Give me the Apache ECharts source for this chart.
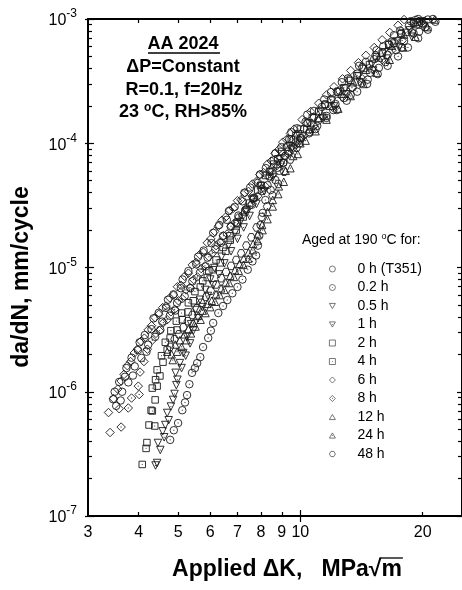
<!DOCTYPE html>
<html>
<head>
<meta charset="utf-8">
<script src="https://cdn.jsdelivr.net/npm/echarts@6.0.0/dist/echarts.min.js"></script>
<style>
  html, body { margin: 0; padding: 0; background: #fff; }
  #chart { width: 462px; height: 590px; }
</style>
</head>
<body>
<div id="chart"></div>
<script>
// --- Data: [ΔK (MPa√m), da/dN (mm/cycle)] ---
const h0 = [[3.46,8.7e-7],[3.49,1.0e-6],[3.52,7.7e-7],[3.58,1.2e-6],[3.61,8.5e-7],[3.64,1.0e-6],[3.70,1.32e-6],[3.73,1.55e-6],[3.77,1.19e-6],[3.84,1.88e-6],[3.87,1.35e-6],[3.91,1.6e-6],[3.98,2.16e-6],[4.02,2.5e-6],[4.06,1.87e-6],[4.14,2.86e-6],[4.18,2.1e-6],[4.22,2.39e-6],[4.30,3.19e-6],[4.35,3.9e-6],[4.39,2.77e-6],[4.48,4.32e-6],[4.52,3.15e-6],[4.57,3.67e-6],[4.67,4.73e-6],[4.72,5.5e-6],[4.77,4.09e-6],[4.87,6.08e-6],[4.92,4.5e-6],[4.97,5.19e-6],[5.08,6.81e-6],[5.13,8.0e-6],[5.19,5.87e-6],[5.30,9.36e-6],[5.36,6.8e-6],[5.42,7.74e-6],[5.54,1.06e-5],[5.60,1.22e-5],[5.66,9.1e-6],[5.78,1.37e-5],[5.85,1.02e-5],[5.91,1.2e-5],[6.04,1.57e-5],[6.10,1.9e-5],[6.17,1.4e-5],[6.31,2.2e-5],[6.38,1.58e-5],[6.45,1.8e-5],[6.59,2.42e-5],[6.67,2.85e-5],[6.74,2.13e-5],[6.89,3.07e-5],[6.97,2.3e-5],[7.04,2.62e-5],[7.20,3.41e-5],[7.28,4.0e-5],[7.36,2.92e-5],[7.52,4.4e-5],[7.60,3.2e-5],[7.69,3.65e-5],[7.86,4.8e-5],[7.95,5.6e-5],[8.04,4.12e-5],[8.22,6.31e-5],[8.30,4.6e-5],[8.40,5.43e-5],[8.59,7.26e-5],[8.68,8.3e-5],[8.78,6.35e-5],[8.98,9.3e-5],[9.08,7.0e-5],[9.18,7.9e-5],[9.39,1.08e-4],[9.50,1.23e-4],[9.60,9.2e-5],[9.82,1.32e-4],[9.95,1.0e-4],[10.05,1.1e-4],[10.3,1.49e-4],[10.4,1.7e-4],[10.55,1.23e-4],[10.8,1.82e-4],[10.9,1.3e-4],[11.05,1.52e-4],[11.3,1.96e-4],[11.45,2.25e-4],[11.6,1.66e-4],[11.9,2.58e-4],[12.05,1.85e-4],[12.2,2.07e-4],[12.5,2.65e-4],[12.65,3.1e-4],[12.8,2.31e-4],[13.1,3.33e-4],[13.3,2.45e-4],[13.45,2.81e-4],[13.8,3.63e-4],[13.95,4.2e-4],[14.15,3.05e-4],[14.5,4.52e-4],[14.65,3.25e-4],[14.85,3.69e-4],[15.2,4.75e-4],[15.4,5.6e-4],[15.6,4.04e-4],[16.0,6.03e-4],[16.2,4.5e-4],[16.4,5.15e-4],[16.8,6.6e-4],[17.0,7.4e-4],[17.2,5.61e-4],[17.6,8.07e-4],[17.8,5.9e-4],[18.0,6.66e-4],[18.5,8.8e-4],[18.7,9.6e-4],[19.0,7.66e-4],[19.2,9.8e-4],[19.5,1.0e-3],[19.6,7.9e-4],[20.0,9.2e-4],[20.3,8.6e-4],[20.6,9.9e-4],[21.2,1.0e-3]];
const h02 = [[4.78,4.1e-7],[4.88,4.9e-7],[5.0,5.6e-7],[5.12,7.1e-7],[5.2,8.2e-7],[5.26,9.4e-7],[5.33,1.15e-6],[5.41,1.42e-6],[5.5,1.55e-6],[5.57,1.7e-6],[5.67,1.9e-6],[5.76,2.29e-6],[5.93,2.71e-6],[6.02,3.1e-6],[6.10,3.58e-6],[6.28,4.3e-6],[6.45,4.9e-6],[6.61,5.47e-6],[6.8,6.2e-6],[7.0,6.97e-6],[7.2,8.0e-6],[7.42,9.6e-6],[7.62,1.12e-5],[7.78,1.25e-5],[7.86,1.5e-5],[7.92,1.8e-5],[7.98,2.2e-5],[8.08,2.75e-5],[8.2,3.49e-5],[8.45,4.2e-5],[8.68,5.06e-5],[8.88,6.0e-5],[9.08,6.93e-5],[9.35,8.6e-5],[9.61,1.06e-4],[10.0,1.1e-4],[10.5,1.2e-4],[11.0,1.38e-4],[11.6,1.6e-4],[12.3,1.85e-4],[13.0,2.2e-4],[13.8,2.6e-4],[14.6,3.0e-4],[15.5,3.6e-4],[16.4,4.2e-4],[17.4,5.0e-4],[18.4,5.9e-4],[19.5,7.0e-4],[20.6,8.2e-4],[21.5,9.5e-4]];
const h05 = [[4.44,2.67e-7],[4.46,3.87e-7],[4.58,4.8e-7],[4.65,5.4e-7],[4.70,6.75e-7],[4.86,8.6e-7],[4.95,1.13e-6],[4.93,1.42e-6],[5.05,1.7e-6],[5.15,2.05e-6],[5.26,2.76e-6],[5.38,3.5e-6],[5.51,4.55e-6],[5.66,5.5e-6],[5.83,6.6e-6],[6.0,8.0e-6],[6.14,9.9e-6],[6.4,1.22e-5],[6.66,1.52e-5],[6.9,1.9e-5],[7.11,2.32e-5],[7.35,2.85e-5],[7.6,3.5e-5],[8.0,4.5e-5],[8.45,5.8e-5],[8.9,7.4e-5],[9.4,9.5e-5],[9.9,1.18e-4],[10.5,1.45e-4],[11.2,1.8e-4],[12.0,2.2e-4],[12.9,2.75e-4],[13.9,3.45e-4],[15.0,4.3e-4],[16.1,5.4e-4],[17.3,6.6e-4],[18.6,8.1e-4],[19.9,9.6e-4]];
const h1 = [[4.40,2.55e-7],[4.52,3.4e-7],[4.62,4.3e-7],[4.74,5.9e-7],[4.80,7.6e-7],[4.9,9.6e-7],[4.98,1.25e-6],[5.1,1.55e-6],[5.22,1.95e-6],[5.35,2.45e-6],[5.45,3.1e-6],[5.6,3.9e-6],[5.75,4.8e-6],[5.92,5.9e-6],[6.1,7.2e-6],[6.3,8.8e-6],[6.5,1.08e-5],[6.75,1.35e-5],[7.0,1.7e-5],[7.25,2.1e-5],[7.5,2.6e-5],[7.8,3.25e-5],[8.15,4.1e-5],[8.55,5.3e-5],[9.0,6.9e-5],[9.5,8.9e-5],[10.0,1.05e-4],[10.6,1.28e-4],[11.3,1.58e-4],[12.1,1.98e-4],[13.0,2.48e-4],[14.0,3.1e-4],[15.1,3.85e-4],[16.3,4.8e-4],[17.5,5.9e-4],[18.8,7.2e-4],[20.2,8.8e-4]];
const h2 = [[4.19,3.9e-7],[4.24,5.4e-7],[4.29,7.1e-7],[4.39,8.6e-7],[4.44,1.11e-6],[4.51,1.34e-6],[4.59,1.73e-6],[4.70,2.17e-6],[4.78,2.71e-6],[4.97,3.14e-6],[5.12,3.8e-6],[5.29,4.39e-6],[5.45,5.4e-6],[5.67,6.97e-6],[5.9,8.3e-6],[6.1,9.6e-6],[6.35,1.09e-5],[6.55,1.35e-5],[6.72,1.66e-5],[6.95,2.0e-5],[7.23,2.55e-5],[7.5,3.3e-5],[7.85,4.2e-5],[8.2,5.5e-5],[8.6,6.8e-5],[9.0,8.6e-5],[9.5,1.08e-4],[10.0,1.3e-4],[10.7,1.6e-4],[11.5,2.05e-4],[12.4,2.6e-4],[13.3,3.2e-4],[14.3,4.0e-4],[15.4,5.0e-4],[16.5,6.2e-4],[17.7,7.6e-4],[19.0,9.2e-4]];
const h4 = [[4.08,2.6e-7],[4.17,3.5e-7],[4.38,5.3e-7],[4.32,7.0e-7],[4.32,1.07e-6],[4.40,1.25e-6],[4.44,1.5e-6],[4.55,1.95e-6],[4.65,2.5e-6],[4.8,3.1e-6],[4.95,3.7e-6],[5.1,4.3e-6],[5.3,5.2e-6],[5.5,6.4e-6],[5.75,7.8e-6],[5.95,9.4e-6],[6.2,1.15e-5],[6.45,1.45e-5],[6.7,1.8e-5],[7.0,2.25e-5],[7.3,2.8e-5],[7.65,3.6e-5],[8.0,4.6e-5],[8.4,5.9e-5],[8.8,7.5e-5],[9.25,9.3e-5],[9.75,1.15e-4],[10.4,1.45e-4],[11.1,1.8e-4],[11.9,2.25e-4],[12.8,2.8e-4],[13.8,3.5e-4],[14.8,4.3e-4],[15.9,5.3e-4],[17.0,6.4e-4],[18.2,7.8e-4],[19.4,9.4e-4]];
const h6 = [[3.40,4.7e-7],[3.37,6.8e-7],[3.58,7.3e-7],[3.47,8.8e-7],[3.55,1.05e-6],[3.62,1.22e-6],[3.68,1.38e-6],[3.75,1.62e-6],[3.82,1.75e-6],[3.9,2.05e-6],[3.97,2.2e-6],[4.05,2.55e-6],[4.13,2.7e-6],[4.22,3.15e-6],[4.30,3.4e-6],[4.39,3.95e-6],[4.48,4.2e-6],[4.58,4.75e-6],[4.67,4.9e-6],[4.77,5.7e-6],[4.87,6.0e-6],[4.98,7.0e-6],[5.08,7.2e-6],[5.19,8.5e-6],[5.30,9.0e-6],[5.42,1.05e-5],[5.53,1.1e-5],[5.65,1.27e-5],[5.77,1.33e-5],[5.9,1.58e-5],[6.02,1.7e-5],[6.15,1.95e-5],[6.28,2.15e-5],[6.41,2.4e-5],[6.55,2.55e-5],[6.7,2.9e-5],[6.84,3.0e-5],[7.0,3.45e-5],[7.14,3.5e-5],[7.3,4.0e-5],[7.45,4.1e-5],[7.62,4.7e-5],[7.78,4.9e-5],[7.95,5.6e-5],[8.12,5.8e-5],[8.3,6.8e-5],[8.48,7.2e-5],[8.66,8.3e-5],[8.85,8.9e-5],[9.05,1.02e-4],[9.24,1.07e-4],[9.45,1.2e-4],[9.65,1.3e-4],[10.1,1.55e-4],[10.6,1.8e-4],[11.1,2.1e-4],[11.6,2.45e-4],[12.1,2.85e-4],[12.7,3.3e-4],[13.3,3.85e-4],[13.9,4.45e-4],[14.5,5.1e-4],[15.2,5.9e-4],[15.9,6.8e-4],[16.6,7.8e-4],[17.4,8.9e-4],[18.0,9.9e-4]];
const h8 = [[3.62,5.2e-7],[3.77,7.4e-7],[3.84,8.9e-7],[4.01,9.5e-7],[3.99,1.11e-6],[4.03,1.44e-6],[4.12,1.75e-6],[4.2,2.2e-6],[4.32,2.6e-6],[4.41,2.95e-6],[4.5,3.1e-6],[4.6,3.6e-6],[4.7,3.8e-6],[4.8,4.4e-6],[4.9,4.6e-6],[5.01,5.4e-6],[5.12,5.6e-6],[5.23,6.6e-6],[5.35,6.9e-6],[5.46,8.0e-6],[5.58,8.4e-6],[5.7,9.8e-6],[5.82,1.03e-5],[5.95,1.22e-5],[6.07,1.3e-5],[6.2,1.5e-5],[6.33,1.6e-5],[6.47,1.8e-5],[6.6,1.86e-5],[6.75,2.15e-5],[6.9,2.3e-5],[7.05,2.55e-5],[7.2,2.65e-5],[7.36,3.0e-5],[7.52,3.15e-5],[7.68,3.6e-5],[7.85,3.75e-5],[8.02,4.3e-5],[8.2,4.5e-5],[8.38,5.3e-5],[8.56,5.6e-5],[8.75,6.6e-5],[8.94,6.9e-5],[9.13,7.9e-5],[9.33,8.2e-5],[9.54,9.4e-5],[9.75,9.7e-5],[10.2,1.15e-4],[10.8,1.38e-4],[11.4,1.65e-4],[12.0,1.95e-4],[12.7,2.35e-4],[13.4,2.8e-4],[14.2,3.3e-4],[15.0,3.95e-4],[15.9,4.7e-4],[16.8,5.6e-4],[17.8,6.7e-4],[18.8,7.9e-4],[19.8,9.3e-4]];
const h12 = [[4.70,2.1e-6],[4.82,2.0e-6],[4.92,2.4e-6],[5.05,2.6e-6],[5.18,2.9e-6],[5.3,3.2e-6],[5.45,3.6e-6],[5.6,4.1e-6],[5.75,4.5e-6],[5.9,5.1e-6],[6.05,5.4e-6],[6.2,6.1e-6],[6.38,6.8e-6],[6.55,7.6e-6],[6.72,8.6e-6],[6.9,9.5e-6],[7.08,1.07e-5],[7.25,1.18e-5],[7.45,1.32e-5],[7.65,1.55e-5],[7.85,1.85e-5],[8.05,2.2e-5],[8.3,2.8e-5],[8.55,3.5e-5],[8.85,4.5e-5],[9.2,6.0e-5],[9.6,7.9e-5],[10.0,1.0e-4],[10.5,1.3e-4],[11.1,1.6e-4],[11.8,2.0e-4],[12.6,2.5e-4],[13.5,3.1e-4],[14.5,3.9e-4],[15.6,4.9e-4],[16.8,6.1e-4],[18.0,7.5e-4],[19.3,9.1e-4]];
const h24 = [[4.85,1.8e-6],[4.97,2.1e-6],[5.1,2.3e-6],[5.24,2.6e-6],[5.38,2.95e-6],[5.52,3.35e-6],[5.68,3.8e-6],[5.84,4.3e-6],[6.0,4.8e-6],[6.16,5.3e-6],[6.33,6.0e-6],[6.5,6.6e-6],[6.68,7.5e-6],[6.86,8.4e-6],[7.05,9.4e-6],[7.24,1.05e-5],[7.44,1.18e-5],[7.64,1.38e-5],[7.85,1.65e-5],[8.07,2.0e-5],[8.3,2.45e-5],[8.55,3.1e-5],[8.82,3.9e-5],[9.1,4.9e-5],[9.45,6.3e-5],[9.85,8.2e-5],[10.3,1.05e-4],[10.9,1.25e-4],[11.6,1.55e-4],[12.4,1.9e-4],[13.3,2.4e-4],[14.3,3.0e-4],[15.4,3.7e-4],[16.6,4.7e-4],[17.9,5.9e-4],[19.2,7.2e-4],[20.5,8.6e-4],[21.4,9.9e-4]];
const h48 = [[4.78,2.3e-6],[4.9,2.65e-6],[5.02,2.9e-6],[5.15,3.3e-6],[5.28,3.7e-6],[5.42,4.15e-6],[5.56,4.7e-6],[5.7,5.2e-6],[5.86,5.8e-6],[6.02,6.5e-6],[6.2,7.3e-6],[6.38,8.2e-6],[6.56,9.2e-6],[6.75,1.03e-5],[6.95,1.15e-5],[7.15,1.3e-5],[7.36,1.5e-5],[7.57,1.75e-5],[7.8,2.1e-5],[8.03,2.55e-5],[8.28,3.1e-5],[8.54,3.8e-5],[8.82,4.7e-5],[9.12,5.9e-5],[9.45,7.4e-5],[9.8,9.2e-5],[10.2,1.3e-4],[10.8,1.62e-4],[11.5,2.05e-4],[12.3,2.6e-4],[13.2,3.25e-4],[14.2,4.1e-4],[15.3,5.1e-4],[16.5,6.3e-4],[17.7,7.7e-4],[19.0,9.4e-4]];

const seriesNames = ['0 h (T351)', '0.2 h', '0.5 h', '1 h', '2 h', '4 h', '6 h', '8 h', '12 h', '24 h', '48 h'];
const seriesData = [h0, h02, h05, h1, h2, h4, h6, h8, h12, h24, h48];

// axis ticks
const xLabelVals = [3, 4, 5, 6, 7, 8, 9, 10, 20];
const xMinorVals = [4, 5, 6, 7, 8, 9, 20];
const xMin = 3, xMax = 25;
const yDecades = [-7, -6, -5, -4, -3];

// --- Symbols (outline paths, dot = tiny stroke in center) ---
const DOT = 'M-0.7,0L0.7,0';
const CIRCLE = 'M0,-5A5,5,0,1,1,0,5A5,5,0,1,1,0,-5Z';
const TRI_DOWN = 'M-5,-4.3L5,-4.3L0,4.3Z';
const TRI_UP = 'M0,-4.3L5,4.3L-5,4.3Z';
const SQUARE = 'M-5,-5L5,-5L5,5L-5,5Z';
const DIAMOND = 'M0,-5L5,0L0,5L-5,0Z';
const HEX = 'M-2.5,-4.33L2.5,-4.33L5,0L2.5,4.33L-2.5,4.33L-5,0Z';

const symbols = [
    ['path://' + CIRCLE, 7.5],
    ['path://' + CIRCLE + DOT, 7.5],
    ['path://' + TRI_DOWN, 7.5],
    ['path://' + TRI_DOWN + DOT, 7.5],
    ['path://' + SQUARE, 6.5],
    ['path://' + SQUARE + DOT, 6.5],
    ['path://' + DIAMOND, 8.5],
    ['path://' + DIAMOND + DOT, 8.5],
    ['path://' + TRI_UP, 7.5],
    ['path://' + TRI_UP + DOT, 7.5],
    ['path://' + HEX, 7.5]
];

const FONT = '"Liberation Sans", Arial, Helvetica, sans-serif';
const lg = Math.log10;

const minorY = [];
for (let n = -7; n < -3; n++) {
    for (let k = 2; k <= 9; k++) minorY.push(n + lg(k));
}

const chart = echarts.init(document.getElementById('chart'));

function xAxisBase(extra) {
    return Object.assign({
        type: 'value', min: lg(xMin), max: lg(xMax),
        splitLine: { show: false },
        axisLine: { show: false },
        axisLabel: { show: false },
        axisTick: { show: false }
    }, extra);
}
function yAxisBase(extra) {
    return Object.assign({
        type: 'value', min: -7, max: -3, interval: 1,
        splitLine: { show: false },
        axisLine: { show: false },
        axisLabel: { show: false },
        axisTick: { show: false }
    }, extra);
}
const tickStyle = { color: '#000', width: 1.2 };

// x-axis title with overline for the root
const xTitle = 'Applied \u0394K,   MPa\u221Am';
const titleFont = 'bold 23px ' + FONT;
const mctx = document.createElement('canvas').getContext('2d');
mctx.font = titleFont;
const wFull = mctx.measureText(xTitle).width;
const wToRoot = mctx.measureText(xTitle.slice(0, -2)).width;
const wRoot = mctx.measureText('\u221A').width;
const xTitleCx = 287, xTitleCy = 570;
const x0 = xTitleCx - wFull / 2;

const option = {
    animation: false,
    backgroundColor: '#fff',
    grid: { left: 88, top: 19, width: 374, height: 497 },
    xAxis: [
        xAxisBase({
            position: 'bottom',
            axisLine: { show: true, lineStyle: { color: '#000', width: 2 } },
            axisTick: { show: true, inside: true, length: 4, customValues: xMinorVals.map(lg), lineStyle: tickStyle },
            axisLabel: {
                show: true, customValues: xLabelVals.map(lg), margin: 9,
                formatter: v => String(Math.round(Math.pow(10, v))),
                fontSize: 16, color: '#000', fontFamily: FONT
            }
        }),
        xAxisBase({ position: 'bottom', axisTick: { show: true, inside: true, length: 6, customValues: [1], lineStyle: tickStyle } }),
        xAxisBase({ position: 'bottom', axisTick: { show: true, inside: false, length: 6, customValues: [1], lineStyle: tickStyle } }),
        xAxisBase({
            position: 'top',
            axisLine: { show: true, lineStyle: { color: '#000', width: 2 } },
            axisTick: { show: true, inside: true, length: 4, customValues: xMinorVals.concat([10]).map(lg), lineStyle: tickStyle }
        })
    ],
    yAxis: [
        yAxisBase({
            position: 'left',
            axisLine: { show: true, lineStyle: { color: '#000', width: 2 } },
            axisTick: { show: true, inside: true, length: 6, lineStyle: tickStyle },
            axisLabel: {
                show: true, margin: 11,
                formatter: v => '{b|10}{e|' + v + '}',
                rich: {
                    b: { fontSize: 16, fontFamily: FONT, color: '#000', verticalAlign: 'middle', padding: [4, 0, 0, 0] },
                    e: { fontSize: 12, fontFamily: FONT, color: '#000', verticalAlign: 'middle', padding: [0, 0, 10, 0] }
                }
            }
        }),
        yAxisBase({ position: 'left', axisTick: { show: true, inside: true, length: 4, customValues: minorY, lineStyle: tickStyle } }),
        yAxisBase({ position: 'left', axisTick: { show: true, inside: false, length: 3, customValues: yDecades, lineStyle: tickStyle } }),
        yAxisBase({
            position: 'right',
            axisLine: { show: true, lineStyle: { color: '#000', width: 2 } },
            axisTick: { show: true, inside: true, length: 5, customValues: yDecades, lineStyle: tickStyle }
        }),
        yAxisBase({ position: 'right', axisTick: { show: true, inside: true, length: 4, customValues: minorY, lineStyle: tickStyle } })
    ],
    legend: {
        orient: 'vertical', left: 324, top: 257,
        itemWidth: 6, itemHeight: 6, itemGap: 4.5,
        selectedMode: false,
        data: seriesNames,
        itemStyle: { color: 'rgba(0,0,0,0)', borderColor: '#555', borderWidth: 0.8 },
        textStyle: { fontSize: 14, lineHeight: 14, color: '#000', fontFamily: FONT, padding: [0, 0, 0, 17] }
    },
    series: seriesNames.map((name, i) => ({
        name: name,
        type: 'scatter',
        xAxisIndex: 0, yAxisIndex: 0,
        symbol: symbols[i][0],
        symbolSize: symbols[i][1],
        itemStyle: { color: 'rgba(0,0,0,0)', borderColor: '#1a1a1a', borderWidth: 0.9, opacity: 1 },
        emphasis: { disabled: true },
        data: seriesData[i].map(p => [lg(p[0]), lg(p[1])])
    })),
    graphic: [
        { type: 'text', x: 183, y: 44, style: { text: 'AA 2024', font: 'bold 18px ' + FONT, fill: '#000', align: 'center', textAlign: 'center', verticalAlign: 'middle', textVerticalAlign: 'middle' } },
        { type: 'line', shape: { x1: 148, y1: 53, x2: 220, y2: 53 }, style: { stroke: '#000', lineWidth: 1.5 } },
        { type: 'text', x: 183, y: 67, style: { text: '\u0394P=Constant', font: 'bold 18px ' + FONT, fill: '#000', align: 'center', textAlign: 'center', verticalAlign: 'middle', textVerticalAlign: 'middle' } },
        { type: 'text', x: 184, y: 90, style: { text: 'R=0.1, f=20Hz', font: 'bold 18px ' + FONT, fill: '#000', align: 'center', textAlign: 'center', verticalAlign: 'middle', textVerticalAlign: 'middle' } },
        { type: 'text', x: 183, y: 112, style: {
            text: '23 {s|o}C, RH>85%', font: 'bold 18px ' + FONT, fill: '#000', align: 'center', textAlign: 'center', verticalAlign: 'middle', textVerticalAlign: 'middle',
            rich: { s: { font: 'bold 12px ' + FONT, fill: '#000', padding: [0, 0, 9, 0] } }
        } },
        { type: 'text', x: 302, y: 240, style: {
            text: 'Aged at 190 {s|o}C for:', font: '14px ' + FONT, fill: '#000', align: 'left', textAlign: 'left', verticalAlign: 'middle', textVerticalAlign: 'middle',
            rich: { s: { font: '9px ' + FONT, fill: '#000', padding: [0, 0, 7, 0] } }
        } },
        { type: 'text', x: 22, y: 277, rotation: Math.PI / 2, style: { text: 'da/dN, mm/cycle', font: 'bold 23px ' + FONT, fill: '#000', align: 'center', textAlign: 'center', verticalAlign: 'middle', textVerticalAlign: 'middle' } },
        { type: 'text', x: xTitleCx, y: xTitleCy, style: { text: xTitle, font: titleFont, fill: '#000', align: 'center', textAlign: 'center', verticalAlign: 'middle', textVerticalAlign: 'middle' } },
        { type: 'line', shape: { x1: x0 + wToRoot + wRoot * 0.85, y1: xTitleCy - 12, x2: x0 + wFull + 1, y2: xTitleCy - 12 }, style: { stroke: '#000', lineWidth: 1.3 } }
    ]
};

chart.setOption(option);
</script>
</body>
</html>
